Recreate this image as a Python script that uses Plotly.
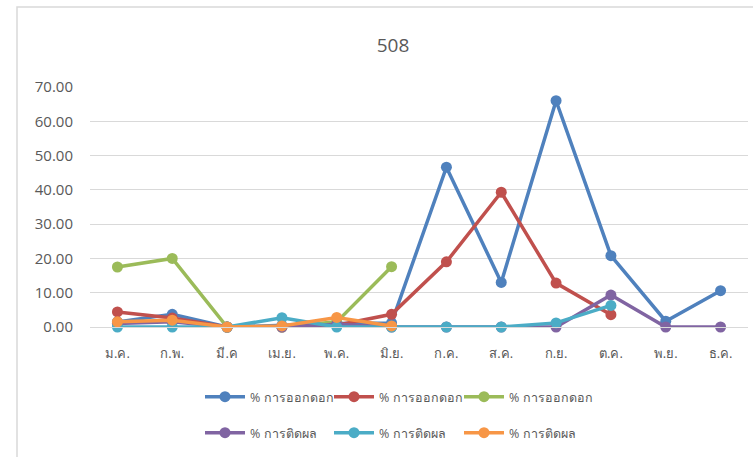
import plotly.graph_objects as go

months = ["ม.ค.", "ก.พ.", "มี.ค", "เม.ย.", "พ.ค.", "มิ.ย.", "ก.ค.", "ส.ค.", "ก.ย.", "ต.ค.", "พ.ย.", "ธ.ค."]

flower_blue = [1.5, 3.7, 0.0, 0.5, 1.0, 1.2, 46.6, 13.0, 66.0, 20.8, 1.7, 10.6]
flower_red = [4.4, 2.6, 0.0, 0.0, 0.5, 3.7, 19.0, 39.3, 12.8, 3.6, None, None]
flower_green = [17.5, 20.0, 0.0, 0.0, 1.5, 17.6, None, None, None, None, None, None]
fruit_purple = [1.0, 1.5, 0.0, 0.0, 0.8, 0.0, 0.0, 0.0, 0.0, 9.3, 0.0, 0.0]
fruit_cyan = [0.0, 0.0, 0.0, 2.7, 0.0, 0.0, 0.0, 0.0, 1.2, 6.3, None, None]
fruit_orange = [1.5, 2.0, 0.0, 0.3, 2.8, 0.3, None, None, None, None, None, None]

names = ["% การออกดอก", "% การออกดอก", "% การออกดอก", "% การติดผล", "% การติดผล", "% การติดผล"]
series = [flower_blue, flower_red, flower_green, fruit_purple, fruit_cyan, fruit_orange]
colors = ["#4F81BD", "#C0504D", "#9BBB59", "#8064A2", "#4BACC6", "#F79646"]
legend_ids = ["legend", "legend2", "legend3", "legend4", "legend5", "legend6"]

fig = go.Figure()
for name, vals, col, lg in zip(names, series, colors, legend_ids):
    fig.add_trace(go.Scatter(
        x=months, y=vals, name=name, mode="lines+markers",
        line=dict(color=col, width=3.5),
        marker=dict(color=col, size=11),
        connectgaps=False, cliponaxis=False, legend=lg, showlegend=True,
    ))

font_family = "Open Sans, Noto Sans, sans-serif"
PW, PH, L, T = 658, 240, 90, 87
legend_px = [(200, 397), (329, 397), (459, 397), (200, 433), (329, 433), (459, 433)]

layout_legends = {}
for lg, (px, py) in zip(legend_ids, legend_px):
    layout_legends[lg] = dict(
        orientation="h", xanchor="left", yanchor="middle",
        x=(px - L) / PW, y=(T + PH - py) / PH,
        font=dict(size=12.5, color="#595959", family=font_family),
        itemwidth=40, bgcolor="rgba(0,0,0,0)",
    )

fig.update_layout(
    width=753, height=457,
    showlegend=True,
    margin=dict(l=L, r=5, t=T, b=457 - T - PH),
    paper_bgcolor="white", plot_bgcolor="white",
    title=dict(text="508", x=393 / 753, xanchor="center", y=1 - 45 / 457, yanchor="middle",
               font=dict(size=19, color="#595959", family=font_family)),
    font=dict(family=font_family, color="#595959"),
    xaxis=dict(
        type="category", range=[-0.5, 11.5], showgrid=False,
        showline=True, linecolor="#D9D9D9", linewidth=1,
        ticks="", tickfont=dict(size=13, color="#595959"),
        ticklabelstandoff=14,
    ),
    yaxis=dict(
        range=[0, 70], dtick=10, tickformat=".2f",
        showgrid=True, gridcolor="#D9D9D9", gridwidth=1,
        zeroline=False, showline=False,
        tickfont=dict(size=15, color="#595959"),
        ticklabelstandoff=16,
    ),
    shapes=[dict(
        type="rect", xref="paper", yref="paper",
        x0=(17 - L) / PW, x1=(770 - L) / PW,
        y0=(T + PH - 480) / PH, y1=(T + PH - 7) / PH,
        line=dict(color="#D9D9D9", width=1.5), layer="below",
    )],
    **layout_legends,
)

fig.write_html("out.html")
